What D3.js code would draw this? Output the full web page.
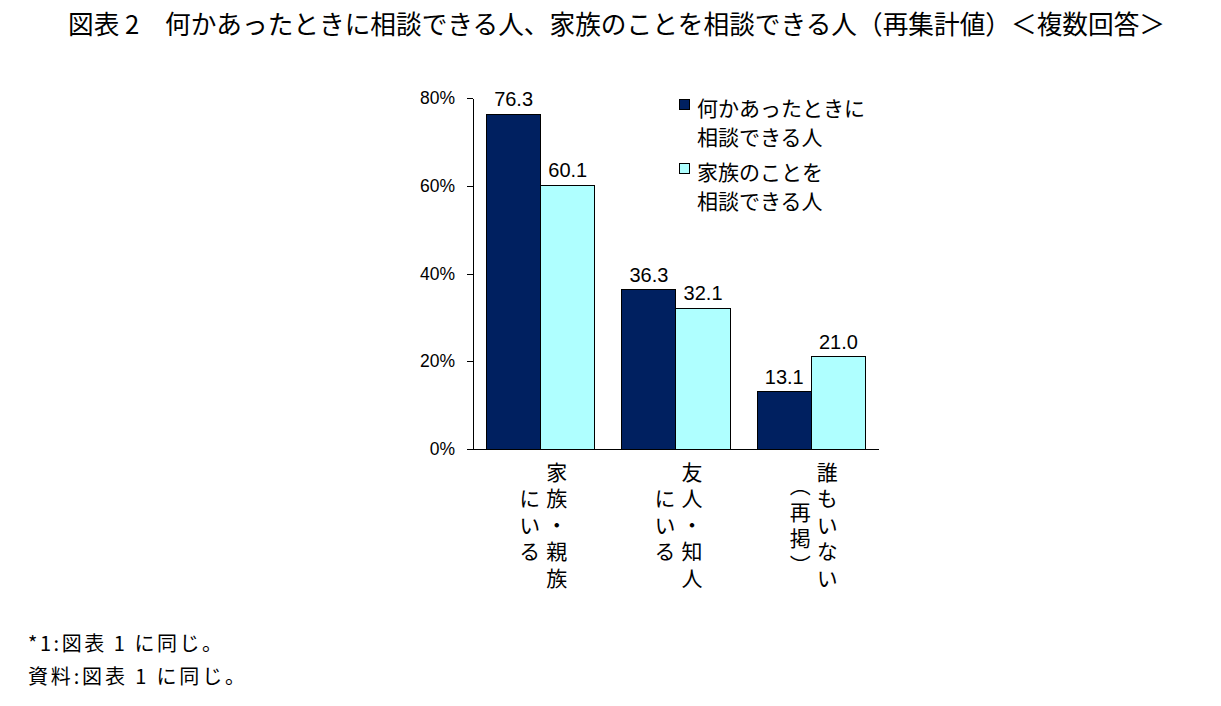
<!DOCTYPE html>
<html><head><meta charset="utf-8">
<script src="https://cdn.jsdelivr.net/npm/d3@7"></script>
<style>
html,body{margin:0;padding:0;background:#fff;}
svg{display:block;}
</style>
</head><body>
<svg id="c" width="1221" height="706"></svg>
<script>
const title = "図表 2　何かあったときに相談できる人、家族のことを相談できる人（再集計値）＜複数回答＞";
const categories = ["家族・親族にいる", "友人・知人にいる", "誰もいない（再掲）"];
const categoryColumns = [["家族・親族", "にいる"], ["友人・知人", "にいる"], ["誰もいない", "︵再掲︶"]];
const seriesNames = ["何かあったときに相談できる人", "家族のことを相談できる人"];
const legendLines = [["何かあったときに", "相談できる人"], ["家族のことを", "相談できる人"]];
const seriesA = [76.3, 36.3, 13.1];
const seriesB = [60.1, 32.1, 21.0];
const yTicks = [0, 20, 40, 60, 80];
const footnotes = ["*1:図表 1 に同じ。", "資料:図表 1 に同じ。"];

const colors = ["#002060", "#AFFFFF"];
const jp = "'Noto Sans CJK JP', 'Noto Sans', sans-serif";
const lat = "'Liberation Sans', Arial, sans-serif";

const svg = d3.select("#c");

svg.append("text").attr("x", 68).attr("y", 34)
  .attr("font-family", jp).attr("font-size", 26)
  .attr("textLength", 1097).attr("lengthAdjust", "spacingAndGlyphs")
  .text(title);

const x0 = d3.scaleBand().domain(categories).range([473, 879]).paddingInner(0.2).paddingOuter(0.1);
const x1 = d3.scaleBand().domain(seriesNames).range([0, x0.bandwidth()]);
const y = d3.scaleLinear().domain([0, 80]).range([449, 98]);

const yAxis = d3.axisLeft(y).tickValues(yTicks).tickFormat(d => d + "%").tickSize(6).tickSizeOuter(0).tickPadding(12);
const gy = svg.append("g").attr("transform", "translate(473,0)").call(yAxis);
gy.selectAll("path,line").attr("stroke", "#000").attr("shape-rendering", "crispEdges");
gy.selectAll("text").attr("font-family", lat).attr("font-size", 17.5).attr("fill", "#000");

const data = categories.map((c, i) => ({c, vals: [seriesA[i], seriesB[i]]}));

const groups = svg.append("g").selectAll("g").data(data).join("g")
  .attr("transform", d => `translate(${x0(d.c)},0)`);

groups.selectAll("rect").data(d => d.vals.map((v, j) => ({v, s: seriesNames[j], j})))
  .join("rect")
  .attr("x", d => x1(d.s)).attr("width", x1.bandwidth())
  .attr("y", d => y(d.v)).attr("height", d => y(0) - y(d.v))
  .attr("fill", d => colors[d.j]).attr("stroke", "#000").attr("stroke-width", 1)
  .attr("shape-rendering", "crispEdges");

groups.selectAll("text.val").data(d => d.vals.map((v, j) => ({v, s: seriesNames[j]})))
  .join("text").attr("class", "val")
  .attr("x", d => x1(d.s) + x1.bandwidth() / 2).attr("y", d => y(d.v) - 8)
  .attr("text-anchor", "middle").attr("font-family", lat).attr("font-size", 20)
  .text(d => d.v.toFixed(1));

svg.append("line").attr("x1", 473).attr("x2", 879).attr("y1", y(0)).attr("y2", y(0))
  .attr("stroke", "#000").attr("shape-rendering", "crispEdges");

// vertical category labels (one text per column, vertical writing)
const colGap = 27, midY = 525, fs = 21, spacing = 5.5;
categories.forEach((c, i) => {
  const cx = x0(c) + x0.bandwidth() / 2;
  categoryColumns[i].forEach((col, k) => {
    const colX = cx + 16 - k * colGap;
    svg.append("text").attr("x", colX).attr("y", midY + spacing / 2)
      .attr("text-anchor", "middle")
      .style("writing-mode", "vertical-rl").style("text-orientation", "upright")
      .style("letter-spacing", spacing + "px")
      .attr("font-family", jp).attr("font-size", fs).text(col);
  });
});

// legend
const legY = [105, 169];
seriesNames.forEach((s, i) => {
  svg.append("rect").attr("x", 679.5).attr("y", legY[i] - 5.5).attr("width", 10).attr("height", 10)
    .attr("fill", colors[i]).attr("stroke", "#000").attr("stroke-width", 1);
  legendLines[i].forEach((ln, k) => {
    svg.append("text").attr("x", 697).attr("y", legY[i] + 2 + k * 29)
      .attr("dominant-baseline", "central").attr("font-family", jp).attr("font-size", 21).text(ln);
  });
});

const footLen = [194, 217];
footnotes.forEach((f, i) => {
  svg.append("text").attr("x", 28).attr("y", 651 + i * 33)
    .attr("font-family", jp).attr("font-size", 20)
    .attr("textLength", footLen[i]).attr("lengthAdjust", "spacing").text(f);
});
</script>
</body></html>
